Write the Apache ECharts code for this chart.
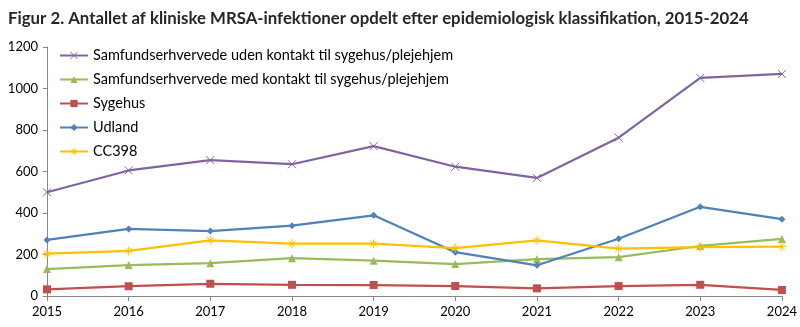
<!DOCTYPE html>
<html><head><meta charset="utf-8">
<script src="https://cdn.jsdelivr.net/npm/echarts@6/dist/echarts.min.js"></script>
<style>html,body{margin:0;padding:0;background:#fff}#c{width:800px;height:327px}</style>
</head><body><div id="c"></div>
<script>
const years = ['2015','2016','2017','2018','2019','2020','2021','2022','2023','2024'];
const seriesNames = ['Samfundserhvervede uden kontakt til sygehus/plejehjem','Samfundserhvervede med kontakt til sygehus/plejehjem','Sygehus','Udland','CC398'];
const udenKontakt = [500,605,655,635,722,623,569,763,1051,1070];
const medKontakt = [130,149,158,182,170,154,178,187,241,275];
const sygehus = [32,47,59,54,53,48,37,48,54,29];
const udland = [270,323,313,339,389,211,148,276,430,370];
const cc398 = [204,217,268,252,252,231,268,228,235,238];
const colors = ['#8064A2','#9BBB59','#C0504D','#4F81BD','#FFC000'];
const FONT = 'Lato, "DejaVu Sans", sans-serif';
const cross = 'path://M0,0L10,10M10,0L0,10';
const star = 'path://M5,0L5,10M0,5L10,5M1.5,1.5L8.5,8.5M8.5,1.5L1.5,8.5';
function mk(i, data, symbol, size, stroke){
  return {name: seriesNames[i], type:'line', data:data, symbol:symbol, symbolSize:size,
    lineStyle:{color:colors[i], width:2.25}, color: colors[i],
    itemStyle: stroke ? {color:colors[i], borderColor:colors[i], borderWidth:1} : {color:colors[i]},
    emphasis:{disabled:true}, animation:false};
}
const chart = echarts.init(document.getElementById('c'));
chart.setOption({
  animation:false,
  title:{text:'Figur 2. Antallet af kliniske MRSA-infektioner opdelt efter epidemiologisk klassifikation, 2015-2024',
    left:3, top:5, textStyle:{fontFamily:FONT, fontSize:16.8, fontWeight:'bold', color:'#262626'}},
  legend:{orient:'vertical', left:54, top:43, itemGap:9, itemWidth:28, itemHeight:9,
    textStyle:{fontFamily:FONT, fontSize:14.5, color:'#000'},
    data: seriesNames.map(n => ({name:n, itemStyle:{borderWidth:1}}))},
  grid:{left:47, right:17, top:47, bottom:31},
  xAxis:{type:'category', data:years, boundaryGap:false,
    axisLine:{lineStyle:{color:'#868686'}}, axisTick:{lineStyle:{color:'#868686'}, length:5},
    axisLabel:{fontFamily:FONT, fontSize:13, color:'#000', margin:9}},
  yAxis:{type:'value', min:0, max:1200, interval:200,
    axisLine:{show:true, lineStyle:{color:'#868686'}}, axisTick:{show:true, length:4, lineStyle:{color:'#868686'}},
    splitLine:{show:false}, axisLabel:{fontFamily:FONT, fontSize:13, color:'#000', margin:9, formatter: v => String(v)}},
  series:[
    mk(0, udenKontakt, cross, 8, true),
    mk(1, medKontakt, 'triangle', 8, false),
    mk(2, sygehus, 'rect', 8, false),
    mk(3, udland, 'diamond', 7, false),
    mk(4, cc398, star, 9, true)
  ]
});
</script></body></html>
